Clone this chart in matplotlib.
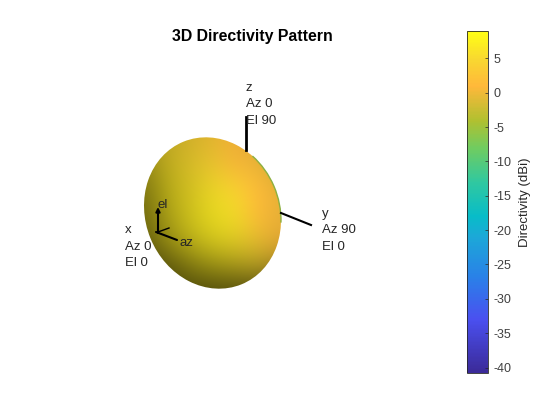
import numpy as np
import matplotlib
matplotlib.use('Agg')
import matplotlib.pyplot as plt
from matplotlib.colors import LinearSegmentedColormap, Normalize
from matplotlib.cm import ScalarMappable
from matplotlib.patches import Ellipse, Arc

plt.rcParams['font.family'] = ['Liberation Sans', 'DejaVu Sans']
plt.rcParams['axes.unicode_minus'] = False

# colorbar
d_min = -40.8
d_max = 9.0
bar_ticks = [5, 0, -5, -10, -15, -20, -25, -30, -35, -40]
bar_levels = [-40.8, -33, -27, -21, -18, -13, -8, -4, 1, 5, 9]
bar_colors = ['#3b2a98', '#4a50f0', '#2a80e8', '#1ca8d8', '#08bcc8', '#30c8a0',
              '#70cc60', '#b0c030', '#ffb83a', '#f8d830', '#ffff14']

# directivity seen on the visible face (dBi), rows top to bottom
grid_x = [144, 167, 190, 213, 236, 259, 282]
grid_y = [137, 162, 188, 213, 239, 264, 290]
directivity = [[5, 5, 4, 3, 1, 0, -2],
               [6, 6, 5, 4, 1, 0, -1],
               [7, 7, 6, 6, 4, 1, 0],
               [7, 7, 7, 7, 6, 1, 0],
               [7, 7, 7, 7, 6, 3, 1],
               [7, 7, 7, 7, 6, 5, 3],
               [7, 7, 7, 7, 7, 6, 5]]
# lighting on the same grid
shade = [[.7, .78, .84, .9, .95, .9, .9],
         [.6, .76, .86, .93, .97, .97, .9],
         [.5, .72, .84, .94, 1, 1, .95],
         [.45, .68, .82, .92, .97, 1, .95],
         [.4, .6, .75, .85, .9, .92, .9],
         [.32, .38, .52, .62, .68, .72, .65],
         [.3, .3, .32, .33, .33, .35, .35]]

# silhouette of the pattern
blob_center = (212.5, 213)
blob_width = 154
blob_height = 134
blob_angle = 68

cmap = LinearSegmentedColormap.from_list(
    'parula_like',
    [((v - d_min) / (d_max - d_min), c) for v, c in zip(bar_levels, bar_colors)], N=256)
norm = Normalize(d_min, d_max)

fig = plt.figure(figsize=(5.6, 4.2), dpi=100)
ax = fig.add_axes([0, 0, 1, 1])

rgb = cmap(norm(np.array(directivity)))[:, :, :3] * np.array(shade)[:, :, None]
dx = grid_x[1] - grid_x[0]
dy = (grid_y[-1] - grid_y[0]) / (len(grid_y) - 1)
im = ax.imshow(rgb, interpolation='bicubic', aspect='auto',
               extent=[grid_x[0] - dx / 2, grid_x[-1] + dx / 2, grid_y[-1] + dy / 2, grid_y[0] - dy / 2])
clip = Ellipse(blob_center, blob_width, blob_height, angle=blob_angle, transform=ax.transData,
               facecolor='none', edgecolor='none')
ax.add_patch(clip)
im.set_clip_path(clip)

ax.set_xlim(0, 560)
ax.set_ylim(420, 0)
ax.axis('off')

# thin green rim where the pattern falls off
ax.add_patch(Arc(blob_center, blob_width, blob_height, angle=blob_angle, theta1=237, theta2=300,
                 color='#8cb040', lw=1))

# global axes
ax.plot([246, 246], [117, 150], color='k', lw=2)
ax.plot([281, 311], [213, 225], color='k', lw=1.5)
# local az/el triad
ax.plot([158, 169], [232, 228], color='k', lw=1)
ax.annotate('', xy=(158, 207), xytext=(158, 233), arrowprops=dict(arrowstyle='-|>', color='k', lw=1.5, mutation_scale=6, shrinkA=0, shrinkB=0))
ax.annotate('', xy=(177, 240), xytext=(156, 232), arrowprops=dict(arrowstyle='-', color='k', lw=1.5, shrinkA=0, shrinkB=0))

fs = 9.5
ax.text(158, 205, 'el', fontsize=fs, va='center', color='#262626')
ax.text(179, 243, 'az', fontsize=fs, va='center', color='#262626')
for x, y, s in [(246, 88, 'z'), (246, 104, 'Az 0'), (246, 121, 'El 90'),
                (322, 214, 'y'), (322, 230, 'Az 90'), (322, 247, 'El 0'),
                (125, 230, 'x'), (125, 247, 'Az 0'), (125, 263, 'El 0')]:
    ax.text(x, y, s, fontsize=fs, va='center', color='#262626')

ax.text(252.5, 36, '3D Directivity Pattern', fontsize=11.4, fontweight='bold', ha='center', va='center', color='k')

cax = fig.add_axes([466.5 / 560, 1 - 373 / 420, 21 / 560, 342 / 420])
cb = fig.colorbar(ScalarMappable(norm=norm, cmap=cmap), cax=cax)
cb.set_ticks(bar_ticks)
cb.ax.tick_params(direction='in', length=2.5, width=0.5, labelsize=fs - 0.5, labelcolor='#404040', color='#262626', pad=4)
cb.outline.set_edgecolor('#262626')
cb.outline.set_linewidth(0.6)
cb.set_label('Directivity (dBi)', fontsize=fs, color='#262626', labelpad=6)

plt.savefig('out.png', dpi=100)
